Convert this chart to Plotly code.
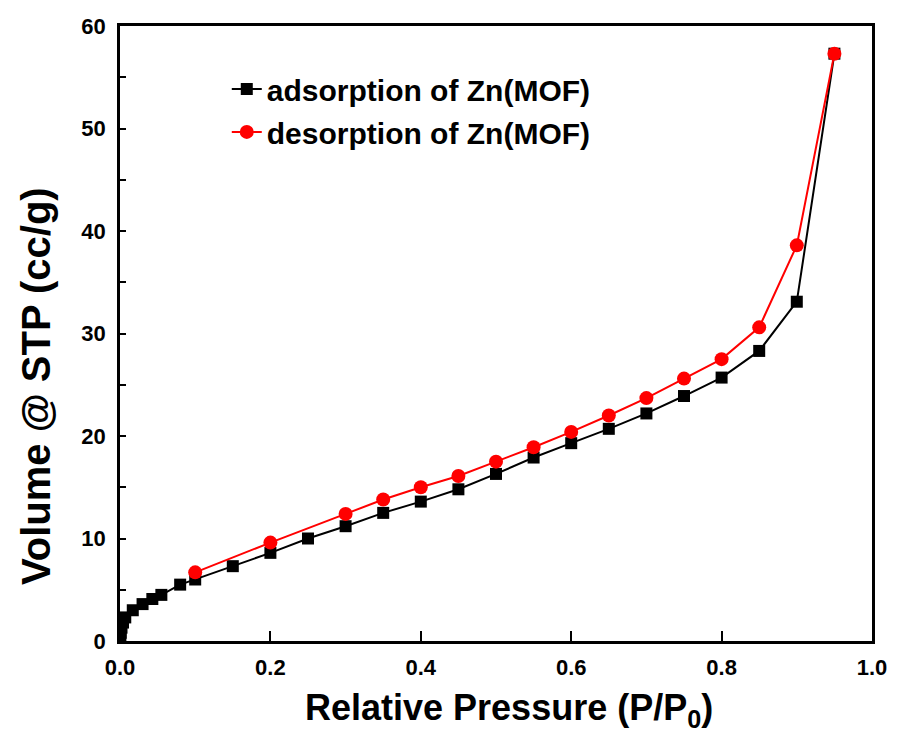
import plotly.graph_objects as go

# Nitrogen isotherm of Zn(MOF): relative pressure vs. adsorbed volume
ads_p = [0.0005, 0.001, 0.002, 0.004, 0.007, 0.017, 0.03, 0.043, 0.055, 0.08,
         0.10, 0.15, 0.20, 0.25, 0.30, 0.35, 0.40, 0.45, 0.50, 0.55, 0.60,
         0.65, 0.70, 0.75, 0.80, 0.85, 0.90, 0.95]
ads_v = [0.3, 0.8, 1.3, 1.8, 2.3, 3.0, 3.6, 4.1, 4.5, 5.5,
         6.0, 7.3, 8.6, 10.0, 11.2, 12.5, 13.6, 14.8, 16.3, 17.9, 19.3,
         20.7, 22.2, 23.9, 25.7, 28.3, 33.1, 57.3]

des_p = [0.10, 0.20, 0.30, 0.35, 0.40, 0.45, 0.50, 0.55, 0.60, 0.65,
         0.70, 0.75, 0.80, 0.85, 0.90, 0.95]
des_v = [6.7, 9.6, 12.4, 13.8, 15.0, 16.1, 17.5, 18.9, 20.4, 22.0,
         23.7, 25.6, 27.5, 30.6, 38.6, 57.3]

x_ticks = [0.0, 0.2, 0.4, 0.6, 0.8, 1.0]
y_ticks = [0, 10, 20, 30, 40, 50, 60]

x_title = "Relative Pressure (P/P<sub>0</sub>)"
y_title = "Volume @ STP (cc/g)"

FONT = "Liberation Sans"

fig = go.Figure()
fig.add_trace(go.Scatter(
    x=ads_p, y=ads_v, mode="lines+markers", name="adsorption of Zn(MOF)",
    legendgroup="a",
    line=dict(color="black", width=2),
    marker=dict(symbol="square", size=12, color="black"),
))
fig.add_trace(go.Scatter(
    x=des_p, y=des_v, mode="lines+markers", name="desorption of Zn(MOF)",
    legendgroup="d",
    line=dict(color="#ff0000", width=2),
    marker=dict(symbol="circle", size=14, color="#ff0000"),
))

axis_common = dict(
    showline=True, linecolor="black", linewidth=2.5, mirror=True,
    showgrid=False, zeroline=False, ticks="inside", tickcolor="black",
    tickfont=dict(family=FONT, size=22, color="black", weight="bold"),
)

fig.update_xaxes(
    range=[0, 1.0], tickvals=x_ticks, ticktext=[f"{v:.1f}" for v in x_ticks],
    ticklen=10, tickwidth=2, ticklabelstandoff=5,
    **axis_common,
)
fig.update_yaxes(
    range=[0, 60], tickvals=y_ticks, ticklen=0, ticklabelstandoff=7,
    minor=dict(dtick=5, tick0=5, ticks="inside", ticklen=6, tickwidth=2,
               tickcolor="black"),
    **axis_common,
)

# Axis titles as paper-anchored annotations (offset from the plot centre)
fig.add_annotation(
    text=x_title, xref="paper", yref="paper", x=0.517, y=-0.113,
    xanchor="center", yanchor="middle", showarrow=False,
    font=dict(family=FONT, size=36, color="black", weight="bold"),
)
fig.add_annotation(
    text=y_title, xref="paper", yref="paper", x=-0.1115, y=0.415,
    xanchor="center", yanchor="middle", textangle=-90, showarrow=False,
    font=dict(family=FONT, size=40, color="black", weight="bold"),
)

fig.update_layout(
    width=899, height=733,
    margin=dict(l=120, r=17, t=26, b=92),
    plot_bgcolor="white", paper_bgcolor="white",
    showlegend=True,
    legend=dict(
        x=0.142, y=0.94, xanchor="left", yanchor="top",
        bgcolor="rgba(0,0,0,0)", traceorder="grouped", tracegroupgap=1,
        font=dict(family=FONT, size=30, color="black", weight="bold"),
    ),
)

fig.write_html("out.html")
